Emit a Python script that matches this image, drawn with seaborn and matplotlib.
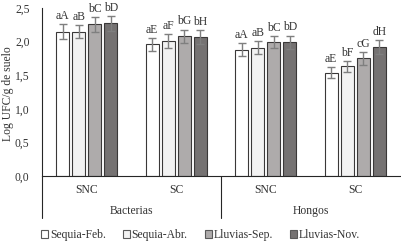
import pandas as pd
import matplotlib.pyplot as plt
import seaborn as sns
import numpy as np

# data
grupos = ["Bacterias SNC", "Bacterias SC", "Hongos SNC", "Hongos SC"]
tick_labels = ["SNC", "SC", "SNC", "SC"]
epocas = ["Sequia-Feb.", "Sequia-Abr.", "Lluvias-Sep.", "Lluvias-Nov."]

sequia_feb = [2.15, 1.96, 1.88, 1.54]
sequia_abr = [2.15, 2.01, 1.91, 1.63]
lluvias_sep = [2.26, 2.08, 1.99, 1.75]
lluvias_nov = [2.27, 2.07, 1.99, 1.92]

err_feb = [0.11, 0.10, 0.10, 0.08]
err_abr = [0.10, 0.10, 0.10, 0.08]
err_sep = [0.11, 0.10, 0.09, 0.10]
err_nov = [0.11, 0.10, 0.10, 0.10]

letras_feb = ["aA", "aE", "aA", "aE"]
letras_abr = ["aB", "aF", "aB", "bF"]
letras_sep = ["bC", "bG", "bC", "cG"]
letras_nov = ["bD", "bH", "bD", "dH"]

colores = ["#ffffff", "#f2f2f2", "#aeaaaa", "#767171"]

valores = [sequia_feb, sequia_abr, lluvias_sep, lluvias_nov]
errores = [err_feb, err_abr, err_sep, err_nov]
letras = [letras_feb, letras_abr, letras_sep, letras_nov]

rows = []
for ep, vals in zip(epocas, valores):
    for g, v in zip(grupos, vals):
        rows.append({"grupo": g, "epoca": ep, "valor": v})
df = pd.DataFrame(rows)

sns.set_style("white")
plt.rcParams["font.family"] = ["Liberation Serif", "DejaVu Serif"]
fs = 8.4
txt = "#333333"

fig = plt.figure(figsize=(4.01, 2.43), dpi=100)
ax = fig.add_axes([0.1047, 0.2757, 0.8928, 0.6913])

sns.barplot(data=df, x="grupo", y="valor", hue="epoca", order=grupos,
            hue_order=epocas, palette=colores, width=0.715, gap=0.17,
            edgecolor="#3a3838", linewidth=0.8, errorbar=None, ax=ax,
            legend=True)

for cont, errs, labs in zip(ax.containers, errores, letras):
    xs = [b.get_x() + b.get_width() / 2 for b in cont]
    hs = [b.get_height() for b in cont]
    ax.errorbar(xs, hs, yerr=errs, fmt="none", ecolor="#7f7f7f",
                elinewidth=1.0, capsize=2.8, capthick=1.0)
    for x, h, e, t in zip(xs, hs, errs, labs):
        ax.annotate(t, (x, h + e), xytext=(0, 1.5), textcoords="offset points",
                    ha="center", va="bottom", fontsize=fs, color=txt)

ax.set_xlim(-0.5, 3.5)
ax.set_ylim(0, 2.5)
ax.set_yticks(np.arange(0, 2.51, 0.5))
ax.set_yticklabels([f"{v:.1f}".replace(".", ",") for v in np.arange(0, 2.51, 0.5)])
ax.set_xticks(range(4))
ax.set_xticklabels(tick_labels)
ax.tick_params(axis="y", length=0, pad=9, labelsize=fs, colors=txt)
ax.tick_params(axis="x", length=0, pad=6, labelsize=fs, colors=txt)
ax.set_xlabel("")
ax.set_ylabel("Log UFC/g de suelo", fontsize=fs, color=txt)
ax.yaxis.set_label_coords(-0.079, 0.49)

for s in ["top", "right"]:
    ax.spines[s].set_visible(False)
for s in ["left", "bottom"]:
    ax.spines[s].set_color("#262626")
    ax.spines[s].set_linewidth(0.8)

# second-level category axis
for xv in [-0.5, 1.5]:
    ax.plot([xv, xv], [0, -0.25], transform=ax.get_xaxis_transform(),
            color="#262626", lw=0.8, clip_on=False)
ax.text(0.5, -0.207, "Bacterias", transform=ax.get_xaxis_transform(),
        ha="center", va="center", fontsize=fs, color=txt)
ax.text(2.5, -0.207, "Hongos", transform=ax.get_xaxis_transform(),
        ha="center", va="center", fontsize=fs, color=txt)

handles, labels = ax.get_legend_handles_labels()
ax.get_legend().remove()
for h in handles:
    h.set_edgecolor("#595959")
    h.set_linewidth(0.8)
fig.legend(handles, labels, loc="lower center", bbox_to_anchor=(0.5, -0.035),
           ncol=4, frameon=False, handlelength=0.6, handleheight=0.6,
           handletextpad=0.15, columnspacing=1.45, fontsize=fs,
           labelcolor=txt)

fig.savefig("out.png", dpi=100)
